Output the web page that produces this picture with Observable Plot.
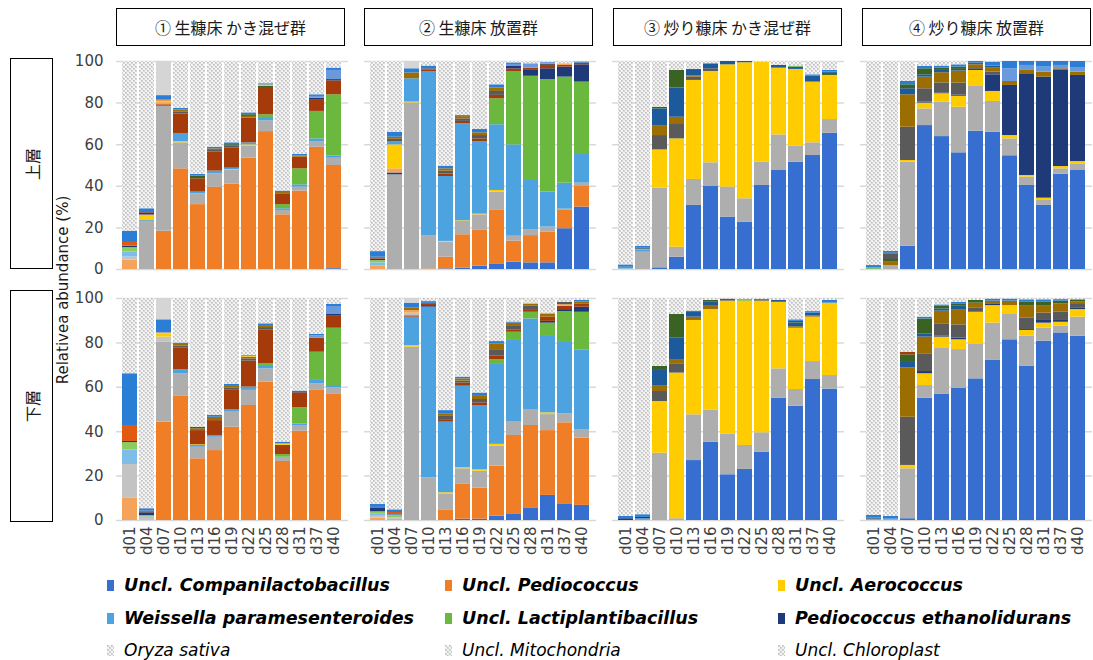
<!DOCTYPE html>
<html>
<head>
<meta charset="utf-8">
<script src="https://cdn.jsdelivr.net/npm/d3@7"></script>
<script src="https://cdn.jsdelivr.net/npm/@observablehq/plot@0.6"></script>
<style>
  body { margin: 0; background: #fff; }
  #fig { position: relative; width: 1093px; height: 660px; overflow: hidden; font-family: "DejaVu Sans", sans-serif; }
  #fig svg.plot { position: absolute; left: 0; }
  .colhead { position: absolute; top: 8px; height: 38px; width: 229px; border: 1.3px solid #000; box-sizing: border-box;
             display: flex; align-items: center; justify-content: center; font-family: "Noto Sans CJK JP", sans-serif;
             font-size: 16px; color: #1a1a1a; background: #fff; }
  .rowhead { position: absolute; left: 10px; width: 43px; border: 1.3px solid #000; box-sizing: border-box; background: #fff; }
  .rowhead span { position: absolute; left: 50%; top: 50%; transform: translate(-50%, -50%) rotate(-90deg);
                  font-family: "Noto Sans CJK JP", sans-serif; font-size: 16px; color: #1a1a1a; white-space: nowrap; }
  .ylabel { position: absolute; left: 63px; top: 290px; transform: translate(-50%, -50%) rotate(-90deg);
            font-size: 15px; color: #1a1a1a; white-space: nowrap; }
  .leg { position: absolute; height: 20px; line-height: 20px; white-space: nowrap; color: #000;
         font-family: "DejaVu Sans", sans-serif; display: flex; align-items: center; }
  .leg.strong { font-weight: bold; font-style: italic; font-size: 17.5px; }
  .leg.soft { font-style: italic; font-size: 17px; }
</style>
</head>
<body>
<div id="fig">
  <svg width="0" height="0" style="position:absolute">
    <defs>
      <pattern id="hostTex" patternUnits="userSpaceOnUse" width="4" height="4">
        <rect width="4" height="4" fill="#f3f3f3"></rect>
        <rect x="0" y="0" width="2" height="2" fill="#d4d4d4"></rect>
        <rect x="2" y="2" width="2" height="2" fill="#d4d4d4"></rect>
        <rect x="0" y="0" width="1" height="1" fill="#c0c0c0"></rect>
        <rect x="2" y="2" width="1" height="1" fill="#c0c0c0"></rect>
      </pattern>
    </defs>
  </svg>
</div>
<script>
// Sampling days and facet categories
const days = ["d01", "d04", "d07", "d10", "d13", "d16", "d19", "d22", "d25", "d28", "d31", "d37", "d40"];
const groups = ["① 生糠床 かき混ぜ群", "② 生糠床 放置群", "③ 炒り糠床 かき混ぜ群", "④ 炒り糠床 放置群"];
const layers = ["上層", "下層"];

// Taxa in the order of the colour scale; "host" is the textured plant/organelle share
const taxa = [
  { key: "comp",   name: "Uncl. Companilactobacillus",  fill: "#376FD0", legend: true },
  { key: "pedio",  name: "Uncl. Pediococcus",           fill: "#F07E26", legend: true },
  { key: "aero",   name: "Uncl. Aerococcus",            fill: "#FFCC00", legend: true },
  { key: "weis",   name: "Weissella paramesenteroides", fill: "#4DA3DF", legend: true },
  { key: "lacto",  name: "Uncl. Lactiplantibacillus",   fill: "#6AB83D", legend: true },
  { key: "ethan",  name: "Pediococcus ethanolidurans",  fill: "#1E3A78", legend: true },
  { key: "grey",   fill: "#AEAEAE" },
  { key: "red",    fill: "#A53A0B" },
  { key: "dgrey",  fill: "#5A5A5A" },
  { key: "olive",  fill: "#9C6D00" },
  { key: "steel",  fill: "#1D5A9C" },
  { key: "dgreen", fill: "#3A6223" },
  { key: "peri",   fill: "#6A99DE" },
  { key: "blue",   fill: "#2A7ED5" },
  { key: "pale",   fill: "#D5D5D5" },
  { key: "pedioL", fill: "#F5A35B" },
  { key: "greyL",  fill: "#C3C3C3" },
  { key: "weisL",  fill: "#7FBDE9" },
  { key: "lactoL", fill: "#8FCC5E" },
  { key: "redL",   fill: "#E05A12" },
  { key: "host",   fill: "url(#hostTex)" }
];
const hostNames = ["Oryza sativa", "Uncl. Mitochondria", "Uncl. Chloroplast"];

// Upper edge (%) of each taxon band, bottom to top, one object per day.
// Whatever lies above the last edge is the host-derived share up to 100 %.
const g1Upper = [
  { pedioL: 4.5, greyL: 6, weisL: 8.5, lactoL: 10.5, ethan: 11.2, redL: 13, blue: 18.4 },
  { grey: 22.8, weis: 23.5, aero: 25.6, pedioL: 26.2, ethan: 27.2, red: 27.8, blue: 29.2 },
  { pedio: 18.4, grey: 78.5, red: 79.2, pedioL: 80.2, aero: 81, redL: 81.6, blue: 83.6, pale: 100 },
  { pedio: 48.4, grey: 60.9, aero: 61.5, weis: 65.4, red: 74.8, dgrey: 75.8, olive: 76.7, blue: 77.5 },
  { pedio: 31.2, grey: 36.4, weis: 37.2, red: 43.6, dgreen: 44.9, blue: 45.7 },
  { pedio: 39.6, grey: 46, weis: 47.3, red: 56.4, dgrey: 57.2, olive: 58, blue: 58.8 },
  { pedio: 41, grey: 47.6, aero: 48, weis: 48.7, red: 58.5, dgrey: 59.3, dgreen: 60, blue: 60.9 },
  { pedio: 53.5, grey: 59.3, aero: 59.9, weis: 60.9, red: 72.8, olive: 73.6, dgreen: 74.4, blue: 75.3 },
  { pedio: 66.3, grey: 71.5, weis: 73.1, lacto: 74.4, red: 87.5, dgreen: 88.1, aero: 88.7, blue: 89.3 },
  { pedio: 26.3, grey: 28.4, weis: 29.2, lacto: 31.2, red: 36.4, olive: 37, blue: 37.7 },
  { pedio: 37.7, grey: 39.6, weis: 40.7, lacto: 48.4, red: 54, olive: 54.6, blue: 55.3 },
  { pedio: 58.8, grey: 61.5, weis: 62.8, lacto: 76, red: 81.7, ethan: 82.4, peri: 83.2, blue: 84 },
  { comp: 0.4, pedio: 50, grey: 53.5, weis: 54.5, lacto: 84, red: 90.7, ethan: 91.3, peri: 95.7, blue: 96.8 }
];
const g1Lower = [
  { pedioL: 10.2, greyL: 25.2, weisL: 31.8, lactoL: 35.1, ethan: 35.6, redL: 42.8, blue: 66.1 },
  { greyL: 1, weisL: 1.6, lactoL: 2.2, ethan: 3.5, redL: 4.2, blue: 5.3 },
  { pedio: 44.3, grey: 80.3, greyL: 82.6, aero: 84.1, pedioL: 84.5, blue: 90.4, pale: 100 },
  { pedio: 55.9, grey: 66.1, weis: 67.9, red: 77.8, dgrey: 78.6, olive: 79.3, blue: 79.9 },
  { pedio: 27.8, grey: 33, weis: 33.8, aero: 34.1, red: 40.5, olive: 41.3, dgreen: 42 },
  { pedio: 31.5, grey: 37.5, weis: 38.3, red: 45, olive: 46.5, blue: 47.3 },
  { pedio: 42, grey: 48.8, weis: 49.8, red: 58.9, dgrey: 59.7, olive: 60.4, blue: 61.3 },
  { pedio: 51.8, grey: 58.6, weis: 60.1, red: 71.8, dgrey: 72.8, olive: 73.6, aero: 74, blue: 74.3 },
  { pedio: 62.3, grey: 68.3, weis: 69.8, lacto: 70.6, red: 85.9, dgrey: 86.9, olive: 87.8, blue: 88.6 },
  { pedio: 26.6, grey: 28.5, lacto: 29.7, red: 33.8, aero: 34.5, blue: 35.3 },
  { pedio: 40.2, grey: 42.8, weis: 43.5, lacto: 50.8, red: 57.5, ethan: 58, blue: 58.3 },
  { pedio: 58.6, grey: 61.6, weis: 63.1, lacto: 75.8, red: 82.1, peri: 83.2, blue: 83.8 },
  { pedio: 56.8, grey: 59.8, weis: 60.8, lacto: 86.6, red: 92.3, ethan: 92.8, peri: 96.4, blue: 97.3 }
];
const g2Upper = [
  { pedioL: 1.6, weisL: 3.2, lactoL: 4.3, ethan: 5.1, redL: 5.9, blue: 8.6 },
  { grey: 45.5, ethan: 46.4, pedioL: 48.4, aero: 59.9, weis: 61.5, dgrey: 62.6, olive: 63.6, blue: 66 },
  { grey: 80.1, aero: 80.5, weis: 91.7, olive: 94.5, blue: 96.5, pale: 100 },
  { pedio: 0.3, grey: 16.3, weis: 95.2, red: 95.8, dgrey: 96.5, blue: 97.8 },
  { comp: 0.3, pedio: 5.9, grey: 13.1, aero: 13.5, weis: 44.7, red: 45.9, dgrey: 47.3, olive: 48.4, blue: 49.7 },
  { comp: 0.6, pedio: 16.7, grey: 23.1, aero: 23.4, weis: 69.7, lacto: 70, red: 71.2, dgrey: 72.4, olive: 73.5, blue: 74 },
  { comp: 1.6, pedio: 18.8, grey: 26.3, aero: 26.6, weis: 61.5, red: 62.8, dgrey: 64.4, olive: 65.7, blue: 67.3 },
  { comp: 2.7, pedio: 28.4, grey: 37.2, aero: 38, weis: 69.6, lacto: 82.1, red: 83.7, dgrey: 85.6, olive: 87.2, blue: 88.8 },
  { comp: 3.5, pedio: 13.6, grey: 16, weis: 59.9, lacto: 95.2, red: 96.4, ethan: 97.6, peri: 98.6, blue: 99.3 },
  { comp: 3.2, pedio: 16.3, grey: 19.2, weis: 42.8, lacto: 92.9, ethan: 95.7, red: 96.8, peri: 98.9 },
  { comp: 3.2, pedio: 17.9, grey: 20.4, weis: 37.2, lacto: 91.3, ethan: 96.5, red: 97.6, dgrey: 98.7, peri: 99.5 },
  { comp: 19.6, pedio: 28.4, grey: 29, weis: 41.5, lacto: 92.5, ethan: 97.3, red: 98.1, pedioL: 98.9 },
  { comp: 30, pedio: 39.9, grey: 41.5, weis: 55.3, lacto: 90.1, ethan: 98.4, red: 99.2, blue: 99.8 }
];
const g2Lower = [
  { pedioL: 1.1, greyL: 1.9, weisL: 3.1, lactoL: 3.9, ethan: 5.4, redL: 5.9, blue: 7.3 },
  { pedioL: 0.5, greyL: 1.3, lactoL: 1.8, weisL: 2.5, ethan: 3, redL: 3.6, blue: 4.8 },
  { grey: 78.1, aero: 78.8, weis: 91.6, red: 92.2, greyL: 93.4, pedioL: 94.6, olive: 95.8, blue: 97.9, pale: 100 },
  { grey: 19.2, weis: 96.1, ethan: 96.8, red: 97.3, olive: 97.8, blue: 98.6 },
  { pedio: 4.8, grey: 12, aero: 12.5, weis: 44.3, red: 45.1, dgrey: 46.9, olive: 48.1, blue: 49.5 },
  { comp: 0.6, pedio: 16.5, grey: 23.3, aero: 23.8, weis: 60.5, red: 61.9, dgrey: 62.8, olive: 63.8, blue: 64.6 },
  { comp: 0.6, pedio: 14.6, grey: 22.2, aero: 22.8, weis: 51.8, red: 53, dgrey: 54.5, olive: 55.9, blue: 57.4 },
  { comp: 2, pedio: 24.5, grey: 33.5, aero: 34.3, weis: 70.3, lacto: 72.4, red: 74.2, dgrey: 76.6, olive: 79.5, blue: 80.6 },
  { comp: 3, pedio: 38.3, grey: 44.6, weis: 81.5, lacto: 84.8, red: 85.9, dgrey: 87.4, olive: 88.9, blue: 89.4 },
  { comp: 5.7, pedio: 42.8, grey: 50, weis: 90.8, lacto: 93.8, red: 95, dgrey: 96.5, olive: 97.3, aero: 97.9 },
  { comp: 11.3, pedio: 40.5, grey: 47.7, aero: 48.5, weis: 82.9, lacto: 88.9, ethan: 89.7, red: 91.6, olive: 92.8, pedioL: 93.4 },
  { comp: 7.5, pedio: 44, grey: 48, weis: 80.6, lacto: 94.1, ethan: 95, red: 96.5, pedioL: 97.2, dgrey: 98.3 },
  { comp: 6.8, pedio: 37.1, grey: 41, weis: 76.9, lacto: 93.8, ethan: 96.1, red: 97.6, olive: 98.4, blue: 99.1 }
];
const g3Upper = [
  { weisL: 0.4, lacto: 0.8, ethan: 1.1, blue: 2.2 },
  { grey: 8.3, weis: 9.4, lacto: 9.8, ethan: 10.2, blue: 11.2 },
  { comp: 0.8, grey: 39.1, aero: 57.5, dgrey: 64.4, olive: 68.9, steel: 77.2, dgreen: 78 },
  { comp: 5.9, grey: 10.7, aero: 62.8, dgrey: 69.7, olive: 73.2, steel: 87.3, dgreen: 95.7 },
  { comp: 30.8, grey: 43.3, aero: 90.9, dgrey: 92.5, olive: 93, steel: 95.7, dgreen: 96.2 },
  { comp: 39.9, grey: 51.3, aero: 95.2, dgrey: 96.5, steel: 98.9 },
  { comp: 25.2, grey: 39.6, aero: 98.4, steel: 100 },
  { comp: 22.8, grey: 34, aero: 99.4, steel: 100 },
  { comp: 40.4, grey: 51.6, aero: 99.7 },
  { comp: 47.6, grey: 64.7, aero: 96.8, steel: 98.1 },
  { comp: 51.6, grey: 59.3, aero: 96.2, steel: 97.3, lacto: 97.8 },
  { comp: 54.8, grey: 60.9, aero: 90.1, steel: 92.9, blue: 93.6 },
  { comp: 65.5, grey: 72.1, aero: 93.3, dgreen: 94.3, steel: 94.9, blue: 95.7 }
];
const g3Lower = [
  { ethan: 0.8, blue: 1.8 },
  { lacto: 0.4, weis: 0.8, ethan: 1.4, blue: 2.6 },
  { grey: 30.3, aero: 53.6, dgrey: 58.1, olive: 60.5, steel: 68, dgreen: 69.4 },
  { grey: 0.8, aero: 66.4, dgrey: 70.6, olive: 72.5, steel: 82.1, dgreen: 92.8 },
  { comp: 27, grey: 47.6, aero: 90.1, olive: 91.6, steel: 93.8, dgreen: 94.3 },
  { comp: 35.3, grey: 49.8, aero: 95, olive: 96.5, steel: 98.3, dgreen: 99.1 },
  { comp: 20.6, grey: 39, aero: 98.8, dgrey: 99.7 },
  { comp: 23, grey: 33.8, aero: 98.8, lacto: 99.5 },
  { comp: 30.8, grey: 39.5, aero: 98.8, dgrey: 99.5 },
  { comp: 55.1, grey: 68.3, aero: 98.3, steel: 99.1 },
  { comp: 51.5, grey: 59, aero: 86.6, olive: 87.3, steel: 89, dgreen: 89.7, blue: 90.4 },
  { comp: 63.5, grey: 71.6, aero: 91.6, olive: 92.1, steel: 93.4, blue: 94.1 },
  { comp: 59.2, grey: 65.3, aero: 97.9, blue: 99.1 }
];
const g4Upper = [
  { lacto: 0.4, weis: 0.8, blue: 1.9 },
  { grey: 1.9, olive: 3.5, dgreen: 4.8, dgrey: 7.5, steel: 8, blue: 8.7 },
  { comp: 11.2, grey: 51.6, aero: 52.4, dgrey: 68.4, olive: 84, steel: 86.9, dgreen: 88.8, blue: 90.4 },
  { comp: 69.2, grey: 77.2, aero: 80, ethan: 80.5, dgrey: 86.9, olive: 92.5, steel: 93.6, dgreen: 96.5, blue: 97.6 },
  { comp: 63.9, grey: 80.4, aero: 84.5, ethan: 84.9, dgrey: 89.7, olive: 94.6, steel: 95.7, dgreen: 96.8, blue: 97.8 },
  { comp: 56.1, grey: 78, aero: 83.3, ethan: 83.9, dgrey: 89.6, olive: 95.4, steel: 96.2, dgreen: 97.3, blue: 98.4 },
  { comp: 66.5, grey: 88, aero: 95.7, ethan: 96.5, olive: 98.4, dgrey: 99.2, blue: 100 },
  { comp: 66, grey: 80.8, aero: 85.6, ethan: 93.6, dgrey: 94.9, olive: 96.8, steel: 97.8, blue: 99.7 },
  { comp: 54.5, redL: 54.8, grey: 62.8, aero: 64.4, ethan: 88.5, olive: 90.4, peri: 96.5, blue: 100 },
  { comp: 40.4, grey: 44.4, aero: 45.2, ethan: 94.1, olive: 95.7, peri: 98.1, blue: 100 },
  { comp: 30.8, grey: 33.5, aero: 34.3, ethan: 92.5, olive: 94.9, peri: 97.3, blue: 100 },
  { comp: 45.8, grey: 48.4, aero: 49.5, ethan: 95.7, olive: 96.5, peri: 98.1, blue: 100 },
  { comp: 47.6, grey: 50.8, aero: 51.9, ethan: 93.3, olive: 94.9, peri: 97.1, blue: 100 }
];
const g4Lower = [
  { lacto: 0.3, olive: 0.6, steel: 1.1, blue: 2.3 },
  { lacto: 0.3, weis: 0.6, blue: 1.8 },
  { comp: 0.8, grey: 23.3, aero: 24.8, dgrey: 46.5, olive: 68.8, steel: 71.6, dgreen: 74.6, red: 75.8 },
  { comp: 55.1, grey: 60.8, aero: 66.1, ethan: 67.1, dgrey: 75.1, olive: 82.6, steel: 84.1, dgreen: 90.8, blue: 91.6 },
  { comp: 56.8, grey: 77.8, aero: 82.6, ethan: 83, dgrey: 88.6, olive: 94.3, steel: 95.3, dgreen: 96.5, blue: 97.1 },
  { comp: 59.6, grey: 77, aero: 81.4, ethan: 82.2, dgrey: 88.1, olive: 95, steel: 96.5, dgreen: 97.6, blue: 98.3 },
  { comp: 63.8, grey: 79.3, aero: 93.8, dgrey: 95.8, olive: 97.9, dgreen: 99.1 },
  { comp: 72.1, grey: 88.9, aero: 96.8, ethan: 97.6, olive: 98.8, blue: 99.7 },
  { comp: 81.4, grey: 92.8, aero: 96.8, olive: 98.8, blue: 99.7 },
  { comp: 69.4, grey: 83, aero: 85.6, ethan: 86, dgrey: 91.1, olive: 96.8, dgreen: 98.3, blue: 99.4 },
  { comp: 80.8, grey: 86.6, aero: 88.9, ethan: 90.1, dgrey: 93.4, olive: 96.8, dgreen: 98.3, blue: 99.4 },
  { comp: 84.5, grey: 87.5, aero: 89.3, ethan: 90.1, dgrey: 93.8, olive: 97.6, dgreen: 98.8, blue: 99.5 },
  { comp: 83, grey: 91.6, aero: 95, ethan: 95.8, dgrey: 97.3, olive: 98.4, dgreen: 99.4 }
];

const panels = {
  "上層": [g1Upper, g2Upper, g3Upper, g4Upper],
  "下層": [g1Lower, g2Lower, g3Lower, g4Lower]
};

// Flatten one layer into band rows {group, day, key, y1, y2}
function bands(layer) {
  const rows = [];
  panels[layer].forEach((bars, gi) => {
    bars.forEach((bar, di) => {
      let lo = 0;
      for (const [key, hi] of Object.entries(bar)) {
        rows.push({ group: groups[gi], day: days[di], key, y1: lo, y2: hi });
        lo = hi;
      }
      if (lo < 100) rows.push({ group: groups[gi], day: days[di], key: "host", y1: lo, y2: 100 });
    });
  });
  return rows;
}

const fig = document.getElementById("fig");

function layerPlot(layer, { top, height, marginTop, marginBottom, showDays }) {
  const rows = bands(layer);
  const svg = Plot.plot({
    width: 1093,
    height,
    marginLeft: 115,
    marginRight: 0,
    marginTop,
    marginBottom,
    style: { fontFamily: "DejaVu Sans, sans-serif", fontSize: "15px", color: "#404040", background: "transparent" },
    facet: { data: rows, x: "group" },
    fx: { domain: groups, paddingInner: 0.063, paddingOuter: 0, axis: null, label: null },
    x: showDays
      ? { domain: days, padding: 0.1, tickRotate: -90, tickSize: 0, tickPadding: 6, label: null }
      : { domain: days, padding: 0.1, axis: null },
    y: { domain: [0, 100], ticks: [0, 20, 40, 60, 80, 100], tickSize: 0, tickPadding: 13, label: null },
    color: { domain: taxa.map(t => t.key), range: taxa.map(t => t.fill) },
    marks: [
      Plot.ruleY([0, 20, 40, 60, 80, 100], { stroke: "#D9D9D9", strokeWidth: 1.5 }),
      Plot.barY(rows, { x: "day", y1: "y1", y2: "y2", fill: "key" })
    ]
  });
  svg.classList.add("plot");
  svg.style.top = top + "px";
  fig.appendChild(svg);
}

layerPlot("上層", { top: 0, height: 280, marginTop: 61, marginBottom: 11, showDays: false });
layerPlot("下層", { top: 280, height: 290, marginTop: 18, marginBottom: 50, showDays: true });

// Column headers
const headLeft = [116, 364, 613, 862];
groups.forEach((g, i) => {
  const d = document.createElement("div");
  d.className = "colhead";
  d.style.left = headLeft[i] + "px";
  d.textContent = g;
  fig.appendChild(d);
});

// Row headers
[[layers[0], 58, 211], [layers[1], 290, 232]].forEach(([name, top, h]) => {
  const d = document.createElement("div");
  d.className = "rowhead";
  d.style.top = top + "px";
  d.style.height = h + "px";
  const s = document.createElement("span");
  s.textContent = name;
  d.appendChild(s);
  fig.appendChild(d);
});

// Shared y-axis title
const yl = document.createElement("div");
yl.className = "ylabel";
yl.textContent = "Relativea abundance (%)";
fig.appendChild(yl);

// Legend: six named taxa, then the three textured host entries
const legCols = [107, 445, 778];
const legRows = [575, 608, 640];
const legendEntries = taxa.filter(t => t.legend).map(t => ({ name: t.name, fill: t.fill, cls: "strong" }))
  .concat(hostNames.map(n => ({ name: n, fill: "url(#hostTex)", cls: "soft" })));
legendEntries.forEach((e, i) => {
  const d = document.createElement("div");
  d.className = "leg " + e.cls;
  d.style.left = legCols[i % 3] + "px";
  d.style.top = legRows[Math.floor(i / 3)] + "px";
  const sw = document.createElementNS("http://www.w3.org/2000/svg", "svg");
  sw.setAttribute("width", 7);
  sw.setAttribute("height", 11);
  sw.style.marginRight = "10px";
  const r = document.createElementNS("http://www.w3.org/2000/svg", "rect");
  r.setAttribute("width", 7);
  r.setAttribute("height", 11);
  r.setAttribute("fill", e.fill);
  sw.appendChild(r);
  d.appendChild(sw);
  const t = document.createElement("span");
  t.textContent = e.name;
  d.appendChild(t);
  fig.appendChild(d);
});
</script>
</body>
</html>
